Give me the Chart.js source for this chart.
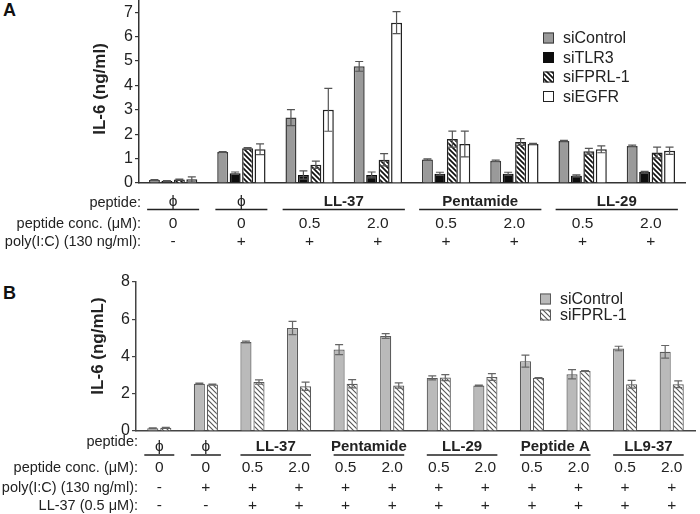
<!DOCTYPE html>
<html>
<head>
<meta charset="utf-8">
<script src="https://cdn.jsdelivr.net/npm/chart.js@4/dist/chart.umd.min.js"></script>
<style>
  body { margin: 0; background: #fff; }
  #wrap { position: relative; width: 700px; height: 514px; background: #fff; overflow: hidden; }
  canvas { position: absolute; left: 0; }
  .tag { position: absolute; font: bold 18px "Liberation Sans", Arial, sans-serif; color: #111; }
</style>
</head>
<body>
<div id="wrap">
  <div class="tag" style="left:3px; top:0px;">A</div>
  <div class="tag" style="left:3px; top:283px;">B</div>
  <canvas id="chartA" width="700" height="262" style="top:0"></canvas>
  <canvas id="chartB" width="700" height="252" style="top:262px"></canvas>
</div>
<script>
// ---- panel A data ----
const peptideA = ['ϕ', 'ϕ', 'LL-37', 'LL-37', 'Pentamide', 'Pentamide', 'LL-29', 'LL-29'];
const concA = ['0', '0', '0.5', '2.0', '0.5', '2.0', '0.5', '2.0'];
const polyA = ['-', '+', '+', '+', '+', '+', '+', '+'];
const groupsA = [['ϕ', 0, 0], ['ϕ', 1, 1], ['LL-37', 2, 3], ['Pentamide', 4, 5], ['LL-29', 6, 7]];
const yTicksA = [0, 1, 2, 3, 4, 5, 6, 7];

const siControlA    = [0.12, 1.27, 2.68, 4.78, 0.96, 0.91, 1.72, 1.52];
const siControlErrA = [0.02, 0.02, 0.33, 0.20, 0.03, 0.03, 0.03, 0.03];
const siTLR3A       = [0.08, 0.40, 0.33, 0.33, 0.38, 0.38, 0.30, 0.45];
const siTLR3ErrA    = [0.02, 0.05, 0.17, 0.12, 0.06, 0.06, 0.03, 0.03];
const siFPRL1A      = [0.14, 1.42, 0.75, 0.95, 1.80, 1.68, 1.30, 1.25];
const siFPRL1ErrA   = [0.02, 0.03, 0.15, 0.25, 0.33, 0.14, 0.12, 0.22];
const siEGFRA       = [0.15, 1.38, 3.00, 6.57, 1.60, 1.60, 1.38, 1.32];
const siEGFRErrA    = [0.10, 0.22, 0.88, 0.45, 0.53, 0.02, 0.14, 0.15];

// ---- panel B data ----
const concB = ['0', '0', '0.5', '2.0', '0.5', '2.0', '0.5', '2.0', '0.5', '2.0', '0.5', '2.0'];
const polyB = ['-', '+', '+', '+', '+', '+', '+', '+', '+', '+', '+', '+'];
const ll37B = ['-', '-', '+', '+', '+', '+', '+', '+', '+', '+', '+', '+'];
const groupsB = [['ϕ', 0, 0], ['ϕ', 1, 1], ['LL-37', 2, 3], ['Pentamide', 4, 5], ['LL-29', 6, 7], ['Peptide A', 8, 9], ['LL9-37', 10, 11]];
const yTicksB = [0, 2, 4, 6, 8];

const siControlB    = [0.15, 2.54, 4.78, 5.53, 4.37, 5.10, 2.85, 2.44, 3.75, 3.05, 4.43, 4.25];
const siControlErrB = [0.02, 0.03, 0.05, 0.36, 0.27, 0.13, 0.11, 0.03, 0.32, 0.25, 0.12, 0.34];
const siFPRL1B      = [0.17, 2.50, 2.63, 2.40, 2.54, 2.44, 2.87, 2.90, 2.85, 3.22, 2.51, 2.51];
const siFPRL1ErrB   = [0.02, 0.02, 0.12, 0.22, 0.22, 0.14, 0.16, 0.18, 0.02, 0.02, 0.21, 0.18];

const FAM = '"Liberation Sans", Arial, sans-serif';
const FONT = '14.5px ' + FAM;
const VALFONT = '15.5px ' + FAM;
const BOLD = 'bold 15px ' + FAM;
Chart.defaults.font.family = FAM;
Chart.defaults.color = '#222';

// diagonal hatch, lines running top-left to bottom-right
function hatch(color, size, lw) {
  const c = document.createElement('canvas');
  c.width = size; c.height = size;
  const g = c.getContext('2d');
  g.fillStyle = '#fff';
  g.fillRect(0, 0, size, size);
  g.strokeStyle = color;
  g.lineWidth = lw;
  g.beginPath();
  g.moveTo(0, 0); g.lineTo(size, size);
  g.moveTo(-2, size - 2); g.lineTo(2, size + 2);
  g.moveTo(size - 2, -2); g.lineTo(size + 2, 2);
  g.stroke();
  return g.createPattern(c, 'repeat');
}

const errorBars = {
  id: 'errorBars',
  afterDatasetsDraw(chart, args, opts) {
    const ctx = chart.ctx, y = chart.scales.y;
    ctx.save();
    ctx.strokeStyle = opts.color;
    ctx.lineWidth = opts.width;
    chart.data.datasets.forEach((ds, di) => {
      chart.getDatasetMeta(di).data.forEach((bar, i) => {
        const e = ds.err[i];
        if (!e) return;
        const top = y.getPixelForValue(ds.data[i] + e);
        const bot = y.getPixelForValue(ds.data[i] - e);
        const h = opts.cap / 2;
        ctx.beginPath();
        ctx.moveTo(bar.x, top); ctx.lineTo(bar.x, bot);
        ctx.moveTo(bar.x - h, top); ctx.lineTo(bar.x + h, top);
        ctx.moveTo(bar.x - h, bot); ctx.lineTo(bar.x + h, bot);
        ctx.stroke();
      });
    });
    ctx.restore();
  }
};

const boxLegend = {
  id: 'boxLegend',
  afterDraw(chart, args, opts) {
    const ctx = chart.ctx;
    ctx.save();
    ctx.font = '16px ' + FAM;
    ctx.textBaseline = 'middle';
    ctx.textAlign = 'left';
    chart.data.datasets.forEach((ds, i) => {
      const cy = opts.y + i * opts.row;
      const s = opts.box;
      ctx.fillStyle = ds.backgroundColor;
      ctx.fillRect(opts.x, cy - s / 2, s, s);
      ctx.strokeStyle = ds.borderColor;
      ctx.lineWidth = 1;
      ctx.strokeRect(opts.x + 0.5, cy - s / 2 + 0.5, s - 1, s - 1);
      ctx.fillStyle = '#222';
      ctx.fillText(ds.label, opts.x + s + 9, cy + 1);
    });
    ctx.restore();
  }
};

// rotated y-axis title, placed by hand
const yTitle = {
  id: 'yTitle',
  afterDraw(chart, args, opts) {
    const ctx = chart.ctx;
    ctx.save();
    ctx.translate(opts.x, opts.y);
    ctx.rotate(-Math.PI / 2);
    ctx.font = 'bold 17px ' + FAM;
    ctx.fillStyle = '#222';
    ctx.textAlign = 'center';
    ctx.textBaseline = 'middle';
    ctx.fillText(opts.text, 0, 0);
    ctx.restore();
  }
};

// condition table under the x axis
const condTable = {
  id: 'condTable',
  afterDraw(chart, args, opts) {
    const ctx = chart.ctx, x = chart.scales.x;
    ctx.save();
    ctx.fillStyle = '#222';
    ctx.strokeStyle = '#222';
    ctx.textBaseline = 'alphabetic';
    opts.rows.forEach(r => {
      ctx.font = FONT;
      ctx.textAlign = 'right';
      ctx.fillText(r.label, opts.labelX, r.y);
      ctx.textAlign = 'center';
      if (r.groups) {
        r.groups.forEach(([name, a, b]) => {
          const c0 = x.getPixelForValue(a), c1 = x.getPixelForValue(b);
          const x0 = a === b ? c0 - opts.single : c0 - opts.pair;
          const x1 = a === b ? c1 + opts.single : c1 + opts.pair;
          ctx.font = a === b ? VALFONT : BOLD;
          ctx.fillText(name, (c0 + c1) / 2, r.nameY);
          ctx.lineWidth = 1.5;
          ctx.beginPath();
          ctx.moveTo(x0, r.lineY); ctx.lineTo(x1, r.lineY);
          ctx.stroke();
        });
      } else {
        ctx.font = VALFONT;
        r.values.forEach((v, i) => ctx.fillText(v, x.getPixelForValue(i), r.y));
      }
    });
    ctx.restore();
  }
};

function makeScales(ticks, max, yWidth, axisColor) {
  return {
    x: {
      grid: { display: false },
      ticks: { display: false },
      border: { display: true, color: axisColor, width: 1.5 },
      afterFit(s) { s.height = 0; s.paddingLeft = 0; s.paddingRight = 0; }
    },
    y: {
      min: 0,
      max: max,
      afterBuildTicks(s) { s.ticks = ticks.map(v => ({ value: v })); },
      grid: { display: true, drawOnChartArea: false, drawTicks: true, tickLength: 4, color: axisColor, lineWidth: 1.2 },
      border: { display: true, color: axisColor, width: 1.5 },
      ticks: { padding: 2, font: { size: 16 }, color: '#222' },
      afterFit(s) { s.width = yWidth; s.paddingTop = 0; s.paddingBottom = 0; }
    }
  };
}

const fprlA = hatch('#111', 5, 1.7);
new Chart(document.getElementById('chartA'), {
  type: 'bar',
  data: {
    labels: peptideA.map((p, i) => p + ' ' + concA[i]),
    datasets: [
      { label: 'siControl', data: siControlA, err: siControlErrA, backgroundColor: '#9a9a9a', borderColor: '#3a3a3a' },
      { label: 'siTLR3', data: siTLR3A, err: siTLR3ErrA, backgroundColor: '#0d0d0d', borderColor: '#0d0d0d' },
      { label: 'siFPRL-1', data: siFPRL1A, err: siFPRL1ErrA, backgroundColor: fprlA, borderColor: '#222' },
      { label: 'siEGFR', data: siEGFRA, err: siEGFRErrA, backgroundColor: '#ffffff', borderColor: '#222' }
    ]
  },
  options: {
    responsive: false,
    animation: false,
    devicePixelRatio: 1,
    layout: { padding: { left: 90, right: 15, top: 0, bottom: 79 } },
    datasets: { bar: { categoryPercentage: 0.73, barPercentage: 0.88, borderWidth: 1.5 } },
    scales: makeScales(yTicksA, 7.5, 49, '#333'),
    plugins: {
      legend: { display: false },
      tooltip: { enabled: false },
      errorBars: { color: '#555', width: 1.2, cap: 8 },
      boxLegend: { x: 543, y: 38, row: 19.5, box: 11 },
      yTitle: { text: 'IL-6 (ng/ml)', x: 100, y: 89 },
      condTable: {
        labelX: 141, single: 26, pair: 27,
        rows: [
          { label: 'peptide:', y: 207, groups: groupsA, nameY: 206, lineY: 209.5 },
          { label: 'peptide conc. (μM):', y: 228, values: concA },
          { label: 'poly(I:C) (130 ng/ml):', y: 246, values: polyA }
        ]
      }
    }
  },
  plugins: [errorBars, boxLegend, yTitle, condTable]
});

const fprlB = hatch('#555', 5, 1.1);
new Chart(document.getElementById('chartB'), {
  type: 'bar',
  data: {
    labels: concB.map((c, i) => i + ' ' + c),
    datasets: [
      { label: 'siControl', data: siControlB, err: siControlErrB, backgroundColor: '#bababa', borderColor: '#5a5a5a' },
      { label: 'siFPRL-1', data: siFPRL1B, err: siFPRL1ErrB, backgroundColor: fprlB, borderColor: '#5a5a5a' }
    ]
  },
  options: {
    responsive: false,
    animation: false,
    devicePixelRatio: 1,
    layout: { padding: { left: 87, right: 5, top: 20, bottom: 83 } },
    datasets: { bar: { categoryPercentage: 0.56, barPercentage: 0.85, borderWidth: 1.2 } },
    scales: makeScales(yTicksB, 8, 49, '#444'),
    plugins: {
      legend: { display: false },
      tooltip: { enabled: false },
      errorBars: { color: '#666', width: 1.2, cap: 8 },
      boxLegend: { x: 540, y: 37, row: 16, box: 11 },
      yTitle: { text: 'IL-6 (ng/mL)', x: 98, y: 84 },
      condTable: {
        labelX: 138, single: 15, pair: 12,
        rows: [
          { label: 'peptide:', y: 184, groups: groupsB, nameY: 189, lineY: 193 },
          { label: 'peptide conc. (μM):', y: 210, values: concB },
          { label: 'poly(I:C) (130 ng/ml):', y: 230, values: polyB },
          { label: 'LL-37 (0.5 μM):', y: 248, values: ll37B }
        ]
      }
    }
  },
  plugins: [errorBars, boxLegend, yTitle, condTable]
});
</script>
</body>
</html>
